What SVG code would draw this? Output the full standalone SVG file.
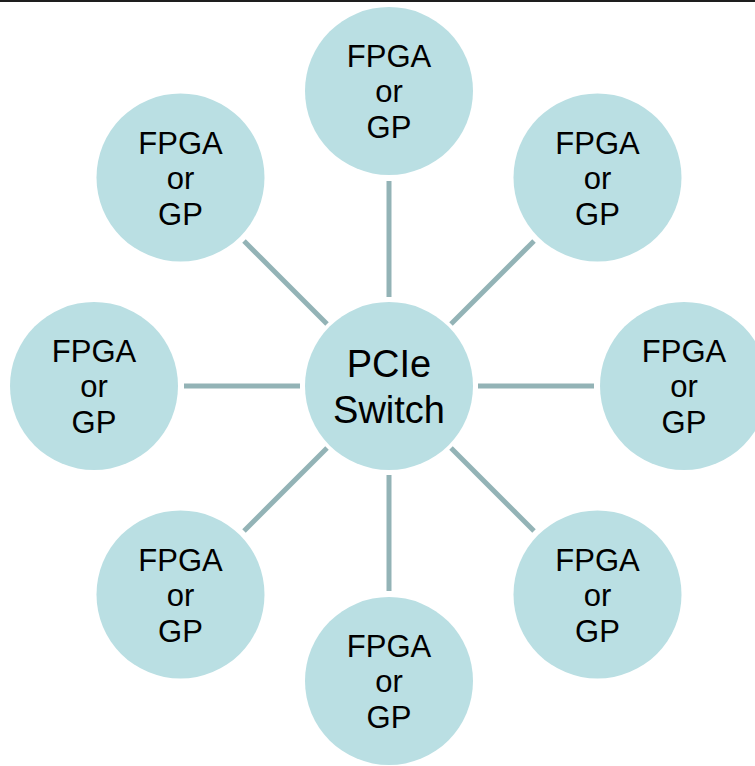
<svg xmlns="http://www.w3.org/2000/svg" width="755" height="766" viewBox="0 0 755 766">
<style>
.n{fill:#badfe3}
.t{font-family:"Liberation Sans",Arial,sans-serif;font-size:31px;fill:#000;text-anchor:middle}
.c{font-family:"Liberation Sans",Arial,sans-serif;font-size:38px;fill:#000;text-anchor:middle}
.e{stroke:#93b3b6;stroke-width:5;fill:none}
</style>
<rect width="755" height="766" fill="#fff"/>
<rect x="0" y="0" width="755" height="2" fill="#1e1e1e"/>
<g id="connectors">
<line class="e" x1="389" y1="297" x2="389" y2="181"/>
<line class="e" x1="389" y1="475" x2="389" y2="591"/>
<line class="e" x1="300" y1="386" x2="184" y2="386"/>
<line class="e" x1="478" y1="386" x2="594" y2="386"/>
<line class="e" x1="327" y1="324" x2="244" y2="241"/>
<line class="e" x1="451" y1="324" x2="534" y2="241"/>
<line class="e" x1="327" y1="448" x2="244" y2="531"/>
<line class="e" x1="451" y1="448" x2="534" y2="531"/>
</g>
<g id="center">
<circle class="n" cx="389" cy="386" r="84"/>
<text class="c" x="389" y="377">PCIe</text>
<text class="c" x="389" y="423">Switch</text>
</g>
<g id="n-top">
<circle class="n" cx="389" cy="91" r="84"/>
<text class="t" x="389" y="67">FPGA</text><text class="t" x="389" y="102">or</text><text class="t" x="389" y="138">GP</text>
</g>
<g id="n-topright">
<circle class="n" cx="597.5" cy="177.5" r="84"/>
<text class="t" x="597.5" y="153.5">FPGA</text><text class="t" x="597.5" y="188.5">or</text><text class="t" x="597.5" y="224.5">GP</text>
</g>
<g id="n-right">
<circle class="n" cx="684" cy="386" r="84"/>
<text class="t" x="684" y="362">FPGA</text><text class="t" x="684" y="397">or</text><text class="t" x="684" y="433">GP</text>
</g>
<g id="n-bottomright">
<circle class="n" cx="597.5" cy="594.5" r="84"/>
<text class="t" x="597.5" y="570.5">FPGA</text><text class="t" x="597.5" y="605.5">or</text><text class="t" x="597.5" y="641.5">GP</text>
</g>
<g id="n-bottom">
<circle class="n" cx="389" cy="681" r="84"/>
<text class="t" x="389" y="657">FPGA</text><text class="t" x="389" y="692">or</text><text class="t" x="389" y="728">GP</text>
</g>
<g id="n-bottomleft">
<circle class="n" cx="180.5" cy="594.5" r="84"/>
<text class="t" x="180.5" y="570.5">FPGA</text><text class="t" x="180.5" y="605.5">or</text><text class="t" x="180.5" y="641.5">GP</text>
</g>
<g id="n-left">
<circle class="n" cx="94" cy="386" r="84"/>
<text class="t" x="94" y="362">FPGA</text><text class="t" x="94" y="397">or</text><text class="t" x="94" y="433">GP</text>
</g>
<g id="n-topleft">
<circle class="n" cx="180.5" cy="177.5" r="84"/>
<text class="t" x="180.5" y="153.5">FPGA</text><text class="t" x="180.5" y="188.5">or</text><text class="t" x="180.5" y="224.5">GP</text>
</g>
</svg>
